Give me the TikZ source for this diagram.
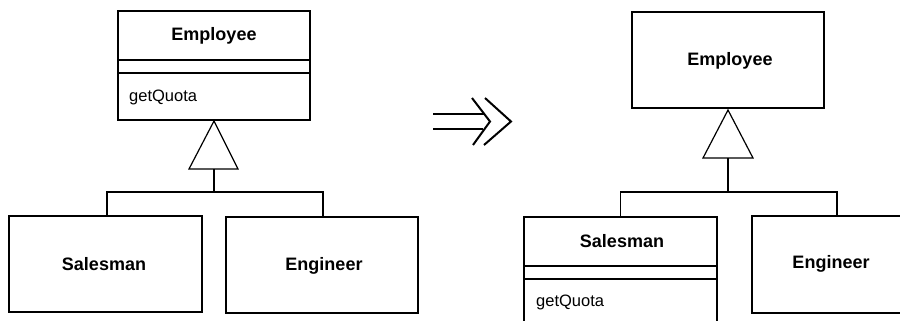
\documentclass[tikz,border=0pt]{standalone}
\usepackage{fontspec}
\setmainfont{Liberation Sans}
\begin{document}
\begin{tikzpicture}[x=1pt,y=-1pt,
  box/.style={draw,line width=1.2pt,inner sep=0pt},
  cname/.style={font=\fontsize{18}{20}\selectfont\bfseries,inner sep=0pt},
  oper/.style={font=\fontsize{16.5}{18}\selectfont,inner sep=0pt,anchor=west},
  conn/.style={line width=1.2pt},
  tri/.style={draw,line width=1.2pt,fill=white,line join=miter}]
\useasboundingbox (0,0) rectangle (900,321);
\clip (0,0) rectangle (900,321);
% ---------- left diagram ----------
\node[box,minimum width=192pt,minimum height=109pt] (emp1) at (214,65.5) {};
\node[cname] (emp1n) at (214,36) {Employee};
\draw[conn] (118,60) -- (310,60);
\draw[conn] (118,73) -- (310,73);
\node[oper] (emp1o) at (129,97) {getQuota};
\draw[tri] (214,121) -- (189,169) -- (238,169) -- cycle;
\coordinate (t1) at (214,169);
\coordinate (h1) at (214,192);
\node[box,minimum width=193pt,minimum height=96pt] (sal1) at (105.5,264) {};
\node[cname] (sal1n) at (104,264) {Salesman};
\node[box,minimum width=192pt,minimum height=96pt] (eng1) at (322,265) {};
\node[cname] (eng1n) at (324,266) {Engineer};
\draw[conn] (t1) -- (h1);
\draw[conn] ([xshift=1.5pt]sal1.north) |- (h1) -| ([xshift=1pt]eng1.north);
% ---------- arrow ----------
\draw[line width=2.4pt] (433,114) -- (485,114);
\draw[line width=2.4pt] (433,129) -- (483,129);
\draw[line width=2pt,line join=miter] (472,98) -- (490,121.5) -- (473,145);
\draw[line width=2pt,line join=miter] (485,98) -- (511,121.5) -- (484,145);
% ---------- right diagram ----------
\node[box,minimum width=192pt,minimum height=96pt] (emp2) at (728,60) {};
\node[cname] (emp2n) at (730,61) {Employee};
\draw[tri] (728,110) -- (703,158) -- (753,158) -- cycle;
\coordinate (t2) at (728,158);
\coordinate (h2) at (728,192);
\node[box,minimum width=193pt,minimum height=130pt] (sal2) at (620.5,282) {};
\node[cname] (sal2n) at (622,241) {Salesman};
\draw[conn] (sal2.west |- 0,266) -- (sal2.east |- 0,266);
\draw[conn] (sal2.west |- 0,279) -- (sal2.east |- 0,279);
\node[oper] (sal2o) at (536,302) {getQuota};
\node[box,minimum width=158pt,minimum height=97pt] (eng2) at (831,264.5) {};
\node[cname] (eng2n) at (831,264) {Engineer};
\draw[conn] (t2) -- (h2);
\draw[conn] (sal2.north) |- (h2) -| ([xshift=6pt]eng2.north);
\end{tikzpicture}
\end{document}
